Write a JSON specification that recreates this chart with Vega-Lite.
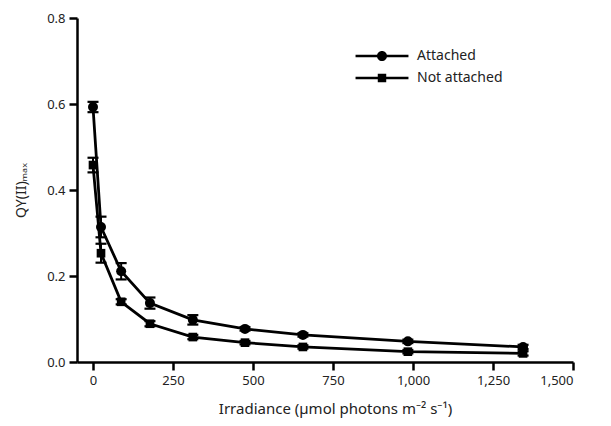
{
  "$schema": "https://vega.github.io/schema/vega-lite/v6.json",
  "width": 496,
  "height": 344,
  "autosize": {"type": "none"},
  "padding": {"left": 77, "top": 18, "right": 38, "bottom": 64},
  "background": "white",
  "config": {
    "view": {"stroke": null},
    "font": "Noto Sans",
    "axis": {
      "grid": false,
      "domainColor": "black",
      "domainWidth": 2.5,
      "tickColor": "black",
      "tickWidth": 2.5,
      "tickSize": 8,
      "labelFont": "Noto Sans",
      "labelFontSize": 13,
      "labelColor": "#222",
      "titleFont": "Noto Sans",
      "titleFontSize": 14,
      "titleFontWeight": "normal",
      "titleColor": "#222"
    }
  },
  "data": {
    "values": [
      {"series": "Attached", "x": 0, "y": 0.593, "lo": 0.581, "hi": 0.605},
      {"series": "Attached", "x": 25, "y": 0.314, "lo": 0.29, "hi": 0.338},
      {"series": "Attached", "x": 88, "y": 0.211, "lo": 0.192, "hi": 0.23},
      {"series": "Attached", "x": 178, "y": 0.137, "lo": 0.124, "hi": 0.15},
      {"series": "Attached", "x": 312, "y": 0.098, "lo": 0.087, "hi": 0.109},
      {"series": "Attached", "x": 475, "y": 0.077, "lo": 0.073, "hi": 0.081},
      {"series": "Attached", "x": 656, "y": 0.063, "lo": 0.059, "hi": 0.067},
      {"series": "Attached", "x": 984, "y": 0.048, "lo": 0.044, "hi": 0.052},
      {"series": "Attached", "x": 1344, "y": 0.035, "lo": 0.03, "hi": 0.04},
      {"series": "Not attached", "x": 0, "y": 0.458, "lo": 0.441, "hi": 0.475},
      {"series": "Not attached", "x": 25, "y": 0.253, "lo": 0.231, "hi": 0.275},
      {"series": "Not attached", "x": 88, "y": 0.14, "lo": 0.134, "hi": 0.146},
      {"series": "Not attached", "x": 178, "y": 0.089, "lo": 0.083, "hi": 0.095},
      {"series": "Not attached", "x": 312, "y": 0.058, "lo": 0.053, "hi": 0.063},
      {"series": "Not attached", "x": 475, "y": 0.045, "lo": 0.041, "hi": 0.049},
      {"series": "Not attached", "x": 656, "y": 0.035, "lo": 0.031, "hi": 0.039},
      {"series": "Not attached", "x": 984, "y": 0.024, "lo": 0.02, "hi": 0.028},
      {"series": "Not attached", "x": 1344, "y": 0.02, "lo": 0.015, "hi": 0.025}
    ]
  },
  "encoding": {
    "x": {
      "field": "x",
      "type": "quantitative",
      "scale": {"domain": [-50, 1500], "nice": false, "zero": false},
      "axis": {
        "values": [0, 250, 500, 750, 1000, 1250, 1500],
        "format": ",.0f",
        "title": "Irradiance (µmol photons m⁻² s⁻¹)",
        "titleFontSize": 15,
        "titleX": 258,
        "labelPadding": 4,
        "titlePadding": 14
      }
    }
  },
  "layer": [
    {
      "mark": {"type": "errorbar", "color": "black", "ticks": {"size": 11, "thickness": 2.2, "color": "black", "opacity": 1}, "rule": {"strokeWidth": 2, "color": "black"}},
      "encoding": {
        "y": {"field": "lo", "type": "quantitative", "scale": {"domain": [0, 0.8], "nice": false}, "title": "QY(II)ₘₐₓ"},
        "y2": {"field": "hi"},
        "detail": {"field": "series"}
      }
    },
    {
      "mark": {"type": "line", "color": "black", "strokeWidth": 2.8},
      "encoding": {
        "y": {
          "field": "y",
          "type": "quantitative",
          "scale": {"domain": [0, 0.8], "nice": false},
          "title": "QY(II)ₘₐₓ",
          "axis": {
            "values": [0, 0.2, 0.4, 0.6, 0.8],
            "format": ".1f",
            "labelPadding": 4,
            "titlePadding": 18
          }
        },
        "detail": {"field": "series"}
      }
    },
    {
      "transform": [{"filter": "datum.series === 'Attached'"}],
      "mark": {"type": "point", "shape": "circle", "filled": true, "color": "black", "opacity": 1, "size": 100},
      "encoding": {"y": {"field": "y", "type": "quantitative", "title": "QY(II)ₘₐₓ"}}
    },
    {
      "transform": [{"filter": "datum.series === 'Not attached'"}],
      "mark": {"type": "point", "shape": "square", "filled": true, "color": "black", "opacity": 1, "size": 75},
      "encoding": {"y": {"field": "y", "type": "quantitative", "title": "QY(II)ₘₐₓ"}}
    },
    {
      "mark": {"type": "point", "filled": true, "opacity": 0, "color": "black"},
      "encoding": {
        "y": {"field": "y", "type": "quantitative", "title": "QY(II)ₘₐₓ"},
        "shape": {
          "field": "series",
          "type": "nominal",
          "scale": {
            "domain": ["Attached", "Not attached"],
            "range": [
              "M-2.94,-0.14 H2.94 V0.14 H-2.94 Z M0.56,0 A0.56,0.56 0 1,1 -0.56,0 A0.56,0.56 0 1,1 0.56,0 Z",
              "M-2.94,-0.14 H2.94 V0.14 H-2.94 Z M-0.47,-0.47 H0.47 V0.47 H-0.47 Z"
            ]
          },
          "legend": {
            "title": null,
            "orient": "none",
            "legendX": 296,
            "legendY": 29,
            "padding": 0,
            "symbolSize": 324,
            "symbolFillColor": "black",
            "symbolStrokeColor": "black",
            "symbolStrokeWidth": 0,
            "symbolOpacity": 1,
            "labelOffset": 26,
            "labelFontSize": 14,
            "labelFont": "Noto Sans",
            "labelColor": "#222",
            "rowPadding": 6
          }
        }
      }
    }
  ]
}
